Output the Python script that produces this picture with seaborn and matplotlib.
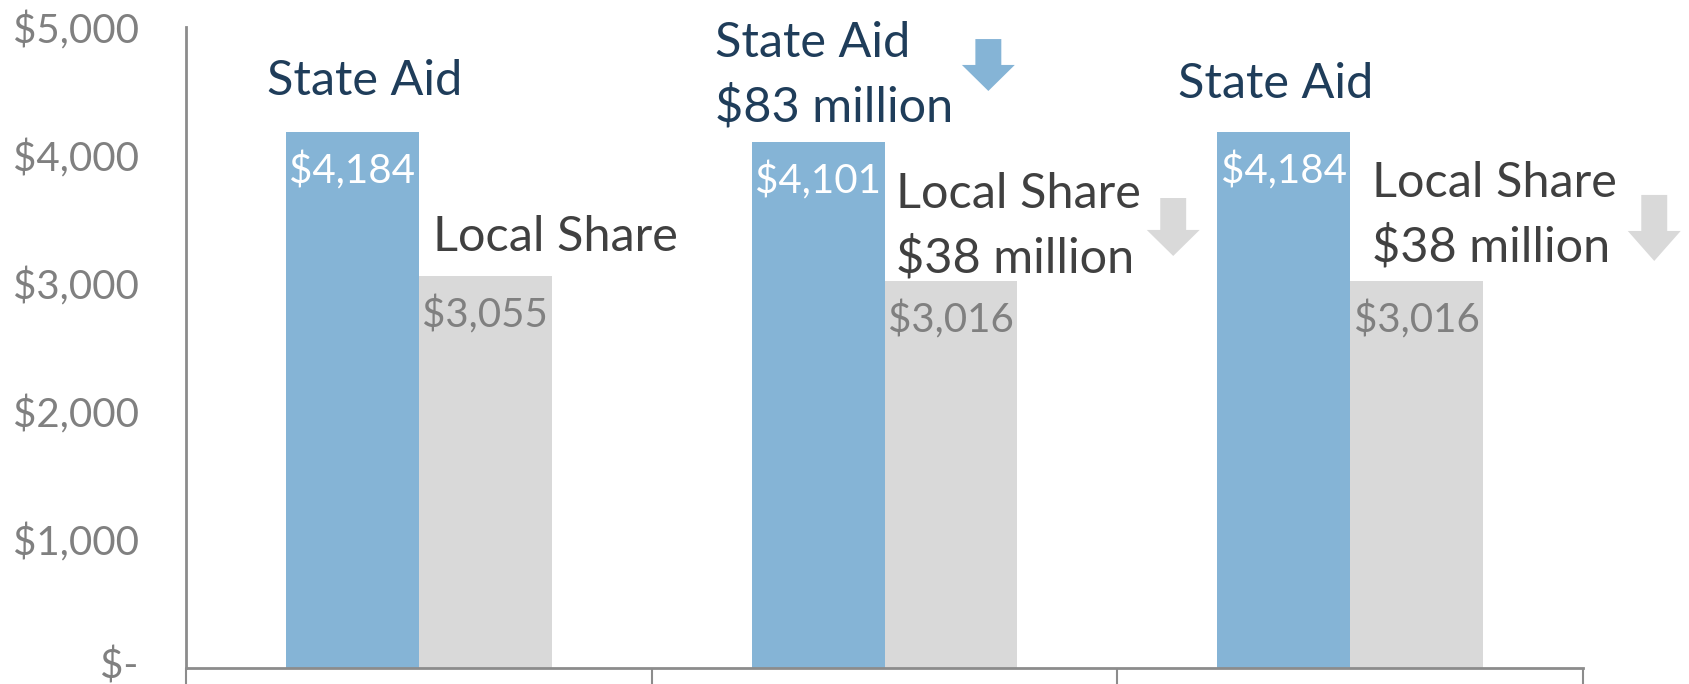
import matplotlib
matplotlib.use("Agg")
import matplotlib.pyplot as plt
import seaborn as sns
import pandas as pd
from matplotlib.patches import FancyArrow
from matplotlib.ticker import FuncFormatter, FixedLocator
from matplotlib.transforms import ScaledTranslation

# ---- data ----
scenarios = ["Current", "Scenario A", "Scenario B"]
series = ["State Aid", "Local Share"]
state_aid = [4184, 4101, 4184]
local_share = [3055, 3016, 3016]
y_ticks = [0, 1000, 2000, 3000, 4000, 5000]

df = pd.DataFrame({
    "scenario": scenarios * 2,
    "series": [series[0]] * 3 + [series[1]] * 3,
    "value": state_aid + local_share,
})

BLUE = "#85B4D6"
GRAY = "#D9D9D9"
NAVY = "#1F3D5A"
DARK = "#404040"
TICK = "#808080"
AXIS = "#8C8C8C"

sns.set_theme(style="white")
plt.rcParams["font.family"] = ["Lato", "DejaVu Sans"]

fig = plt.figure(figsize=(16.89, 6.84), dpi=100)
ax = fig.add_axes([186 / 1689, 16 / 684, (1583 - 186) / 1689, (668 - 27) / 684])

sns.barplot(data=df, x="scenario", y="value", hue="series", order=scenarios,
            hue_order=series, palette=[BLUE, GRAY], width=0.57, gap=0,
            saturation=1, ax=ax, legend=False, edgecolor="none", linewidth=0)

ax.set_xlim(-0.5, 2.5)
ax.set_ylim(0, 5000)
ax.set_xlabel("")
ax.set_ylabel("")

# spines
for s in ["top", "right"]:
    ax.spines[s].set_visible(False)
for s in ["left", "bottom"]:
    ax.spines[s].set_color(AXIS)
    ax.spines[s].set_linewidth(2)

# y axis
ax.yaxis.set_major_locator(FixedLocator(y_ticks))
ax.yaxis.set_major_formatter(FuncFormatter(lambda v, p: "$-" if v == 0 else f"${v:,.0f}"))
ax.tick_params(axis="y", length=0, pad=34, labelsize=29, labelcolor=TICK)

# x axis: ticks at category boundaries, no labels
ax.set_xticks([-0.5, 0.5, 1.5, 2.5])
ax.set_xticklabels([])
ax.tick_params(axis="x", length=12, width=1.5, color=AXIS, direction="out", bottom=True)

# value labels inside bars
containers = ax.containers
for cont, color in zip(containers, ["white", TICK]):
    for bar in cont:
        h = bar.get_height()
        ax.annotate(f"${h:,.0f}", (bar.get_x() + bar.get_width() / 2, h),
                    xytext=(0, -28), textcoords="offset points",
                    ha="center", va="center", fontsize=29, color=color)

# series annotations
fs = 35
ls = 1.5
ax.text(-0.327, 4579, "State Aid", ha="left", va="center", fontsize=fs, color=NAVY)
ax.text(0.031, 3362, "Local Share", ha="left", va="center", fontsize=fs, color=DARK)
ax.text(0.636, 4622, "State Aid\n$83 million", ha="left", va="center", fontsize=fs,
        color=NAVY, linespacing=ls)
ax.text(1.024, 3448, "Local Share\n$38 million", ha="left", va="center", fontsize=fs,
        color=DARK, linespacing=ls)
ax.text(1.630, 4555, "State Aid", ha="left", va="center", fontsize=fs, color=NAVY)
ax.text(2.046, 3530, "Local Share\n$38 million", ha="left", va="center", fontsize=fs,
        color=DARK, linespacing=ls)

# down arrows
def down_arrow(xc, ytop, ytip, yhead, color):
    a = FancyArrow(xc, ytop, 0, ytip - ytop, width=0.0557, head_width=0.1136,
                   head_length=yhead - ytip, length_includes_head=True,
                   color=color, linewidth=0, clip_on=False)
    ax.add_patch(a)

down_arrow(1.223, 4906, 4501, 4704, BLUE)
down_arrow(1.620, 3666, 3214, 3417, GRAY)
down_arrow(2.653, 3690, 3175, 3409, GRAY)

# nudge the "$-" label up slightly so it stays inside the figure
lbl0 = ax.yaxis.get_major_ticks()[0].label1
lbl0.set_transform(lbl0.get_transform() + ScaledTranslation(0, 5 / 100, fig.dpi_scale_trans))

fig.savefig("out.png", dpi=100)
